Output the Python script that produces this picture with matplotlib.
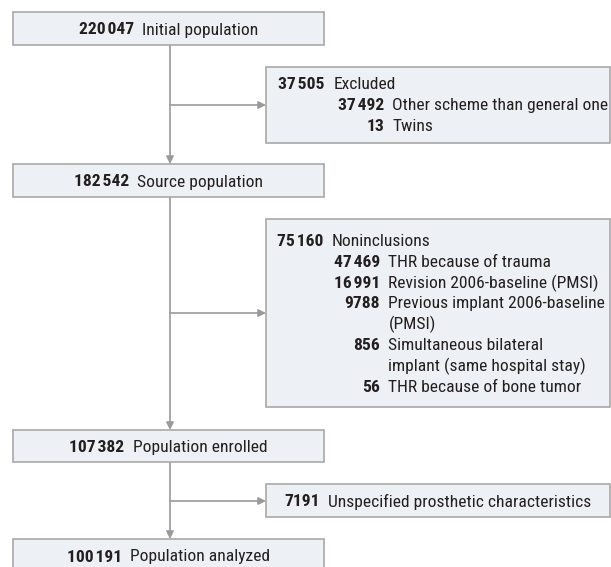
import matplotlib
matplotlib.use("Agg")
import matplotlib.pyplot as plt
from matplotlib import font_manager
from matplotlib.patches import Rectangle

# condensed face if one is around, otherwise Liberation Sans a bit smaller
installed = {f.name for f in font_manager.fontManager.ttflist}
FAMILY, FS = "Liberation Sans", 10.6
for name, size in [("Roboto Condensed", 12.6), ("Liberation Sans Narrow", 12.0),
                   ("Open Sans Condensed", 12.0), ("Noto Sans Condensed", 11.5)]:
    if name in installed:
        FAMILY, FS = name, size
        break
plt.rcParams["font.family"] = [FAMILY, "DejaVu Sans"]

# flow data
main_counts = [220047, 182542, 107382, 100191]
main_labels = ["Initial population", "Source population",
               "Population enrolled", "Population analyzed"]

excl_count = 37505
excl_label = "Excluded"
excl_sub_counts = [37492, 13]
excl_sub_labels = ["Other scheme than general one", "Twins"]

nonincl_count = 75160
nonincl_label = "Noninclusions"
nonincl_sub_counts = [47469, 16991, 9788, 856, 56]
nonincl_sub_labels = ["THR because of trauma",
                      "Revision 2006-baseline (PMSI)",
                      "Previous implant 2006-baseline\n(PMSI)",
                      "Simultaneous bilateral\nimplant (same hospital stay)",
                      "THR because of bone tumor"]

unspec_count = 7191
unspec_label = "Unspecified prosthetic characteristics"

FILL = "#edf0f4"
EDGE = "#a8a8a8"
LINE = "#9a9a9a"
TEXT = "#231f20"
GAP = 8.5
LINE_H = 20.8
DY = 1.5  # va="center" sits a touch high, nudge text down


def fmt(n):
    if n >= 10000:
        return f"{n:,}".replace(",", "\u200a")
    return str(n)


def box(ax, x0, y0, x1, y1):
    ax.add_patch(Rectangle((x0, y0), x1 - x0, y1 - y0, facecolor=FILL,
                           edgecolor=EDGE, lw=1.2, zorder=2))


def arrow(ax, start, end):
    ax.annotate("", xy=end, xytext=start,
                arrowprops=dict(arrowstyle="-|>", color=LINE, lw=1.2,
                                mutation_scale=11, shrinkA=0, shrinkB=0),
                zorder=1)


def pair(ax, x_num, y, count, label):
    ax.text(x_num, y + DY, fmt(count), ha="right", va="center", fontsize=FS,
            fontweight="bold", color=TEXT, zorder=3)
    ax.text(x_num + GAP, y + DY, label, ha="left", va="center", fontsize=FS,
            color=TEXT, zorder=3)


def centered_pair(ax, renderer, cx, y, count, label):
    t1 = ax.text(0, y + DY, fmt(count), ha="right", va="center", fontsize=FS,
                 fontweight="bold", color=TEXT, zorder=3)
    t2 = ax.text(0, y + DY, label, ha="left", va="center", fontsize=FS,
                 color=TEXT, zorder=3)
    w1 = t1.get_window_extent(renderer).width
    w2 = t2.get_window_extent(renderer).width
    start = cx - (w1 + GAP + w2) / 2
    t1.set_x(start + w1)
    t2.set_x(start + w1 + GAP)


fig = plt.figure(figsize=(6.11, 5.67), dpi=100)
ax = fig.add_axes([0, 0, 1, 1])
ax.set_xlim(0, 611)
ax.set_ylim(567, 0)
ax.axis("off")
renderer = fig.canvas.get_renderer()

# main column
main_x0, main_x1 = 13, 324
spine_x = 170
main_y = [(12, 45), (164, 197), (430, 462), (539, 572)]
for (y0, y1), n, lab in zip(main_y, main_counts, main_labels):
    box(ax, main_x0, y0, main_x1, y1)
    centered_pair(ax, renderer, (main_x0 + main_x1) / 2, (y0 + y1) / 2, n, lab)

for (a, b) in zip(main_y[:-1], main_y[1:]):
    arrow(ax, (spine_x, a[1]), (spine_x, b[0]))

# side boxes
side_x0, side_x1 = 266, 610

# excluded
box(ax, side_x0, 67, side_x1, 143)
arrow(ax, (spine_x, 105), (side_x0, 105))
pair(ax, 325, 83, excl_count, excl_label)
for i, (n, lab) in enumerate(zip(excl_sub_counts, excl_sub_labels)):
    pair(ax, 384, 83 + LINE_H * (i + 1), n, lab)

# noninclusions
box(ax, side_x0, 219, side_x1, 407)
arrow(ax, (spine_x, 313), (side_x0, 313))
pair(ax, 323, 240, nonincl_count, nonincl_label)
row = 1
for n, lab in zip(nonincl_sub_counts, nonincl_sub_labels):
    lines = lab.split("\n")
    pair(ax, 380, 240 + LINE_H * row, n, lines[0])
    for extra in lines[1:]:
        row += 1
        ax.text(380 + GAP, 240 + LINE_H * row + DY, extra, ha="left",
                va="center", fontsize=FS, color=TEXT, zorder=3)
    row += 1

# unspecified characteristics
box(ax, side_x0, 484, side_x1, 517)
arrow(ax, (spine_x, 501), (side_x0, 501))
centered_pair(ax, renderer, (side_x0 + side_x1) / 2, 500.5, unspec_count, unspec_label)

fig.savefig("out.png", dpi=100)
